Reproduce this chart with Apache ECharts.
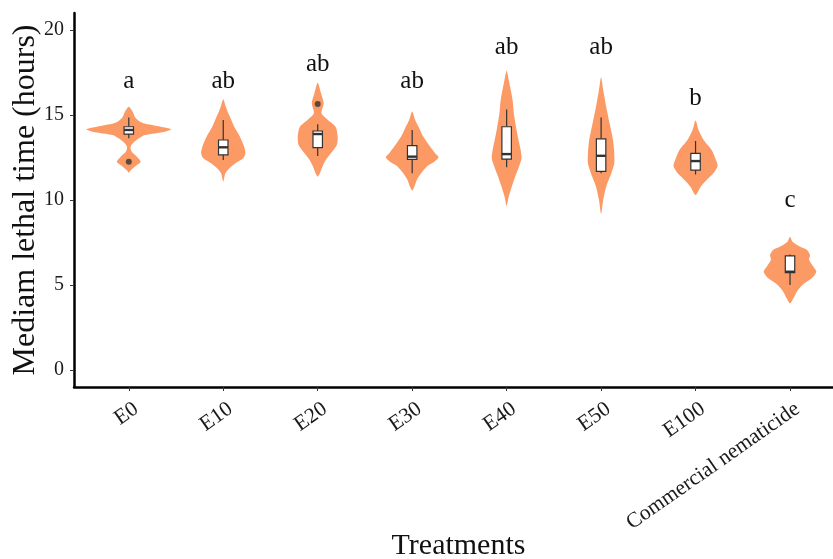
<!DOCTYPE html>
<html>
<head>
<meta charset="utf-8">
<script src="https://cdn.jsdelivr.net/npm/echarts@6/dist/echarts.min.js"></script>
<style>
  html, body { margin: 0; padding: 0; background: #ffffff; }
  #chart { width: 833px; height: 559px; }
</style>
</head>
<body>
<div id="chart"></div>
<script>
// Treatment groups along the x axis
const treatments = ['E0', 'E10', 'E20', 'E30', 'E40', 'E50', 'E100', 'Commercial nematicide'];

// Kernel density profiles: [median lethal time (h), relative density]
const densityE0 = [[15.49, 0], [15.20, 0.09], [14.90, 0.14], [14.71, 0.21], [14.51, 0.35], [14.31, 0.75], [14.16, 1.0], [14.02, 0.85], [13.82, 0.38], [13.63, 0.24], [13.33, 0.09], [13.10, 0.04], [12.84, 0.07], [12.55, 0.19], [12.25, 0.28], [12.00, 0.16], [11.76, 0.05], [11.61, 0]];
const densityE10 = [[15.92, 0], [15.49, 0.06], [15.10, 0.12], [14.71, 0.19], [14.31, 0.26], [13.73, 0.39], [13.14, 0.49], [12.75, 0.52], [12.45, 0.47], [12.16, 0.29], [11.86, 0.14], [11.57, 0.05], [11.08, 0]];
const densityE20 = [[16.90, 0], [16.27, 0.08], [15.69, 0.14], [15.10, 0.09], [14.71, 0.24], [14.31, 0.42], [13.73, 0.47], [13.24, 0.45], [12.75, 0.31], [12.35, 0.19], [11.96, 0.11], [11.57, 0.05], [11.37, 0]];
const densityE30 = [[15.20, 0], [14.71, 0.07], [14.31, 0.15], [13.73, 0.26], [13.14, 0.42], [12.75, 0.54], [12.51, 0.62], [12.26, 0.53], [11.96, 0.34], [11.57, 0.21], [11.18, 0.11], [10.78, 0.05], [10.55, 0]];
const densityE40 = [[17.61, 0], [17.06, 0.05], [15.88, 0.14], [15.10, 0.17], [14.31, 0.22], [13.53, 0.28], [12.94, 0.33], [12.45, 0.35], [11.96, 0.29], [11.37, 0.20], [10.78, 0.12], [10.20, 0.05], [9.65, 0]];
const densityE50 = [[17.22, 0], [16.47, 0.05], [15.49, 0.12], [14.51, 0.20], [13.53, 0.28], [12.75, 0.31], [12.16, 0.31], [11.57, 0.24], [10.78, 0.12], [10.00, 0.05], [9.18, 0]];
const densityE100 = [[14.67, 0], [14.12, 0.07], [13.53, 0.19], [12.94, 0.38], [12.35, 0.48], [12.00, 0.52], [11.57, 0.42], [11.18, 0.26], [10.78, 0.12], [10.29, 0]];
const densityCommercial = [[7.84, 0], [7.55, 0.06], [7.25, 0.24], [7.06, 0.40], [6.76, 0.47], [6.47, 0.45], [6.08, 0.55], [5.78, 0.62], [5.39, 0.51], [5.00, 0.29], [4.61, 0.16], [4.22, 0.08], [3.92, 0]];
const densities = [densityE0, densityE10, densityE20, densityE30, densityE40, densityE50, densityE100, densityCommercial];

// Box statistics: [lower whisker, Q1, median, Q3, upper whisker]
const boxStats = [
  [13.63, 13.88, 14.12, 14.31, 14.86],
  [12.35, 12.65, 13.10, 13.53, 14.70],
  [12.59, 13.08, 13.88, 14.06, 14.45],
  [11.57, 12.39, 12.55, 13.20, 14.12],
  [11.92, 12.41, 12.70, 14.31, 15.33],
  [11.57, 11.68, 12.60, 13.60, 14.86],
  [11.50, 11.76, 12.29, 12.74, 13.47],
  [5.00, 5.73, 5.78, 6.71, 6.80]
];

// Outlying observations: [treatment index, value]
const outliers = [[0, 12.25], [2, 15.65]];

// Significance letters and the height they sit at
const groupLetters = ['a', 'ab', 'ab', 'ab', 'ab', 'ab', 'b', 'c'];
const letterHeights = [17, 17, 18, 17, 19, 19, 16, 10];

const yTicks = [0, 5, 10, 15, 20];
const xTicks = treatments.map((_, i) => i);

const violinColor = '#FC9A66';
const ink = '#333333';
const serif = 'Liberation Serif';
const violinHalfWidth = 0.45;
const boxHalfWidth = 0.05;

function renderViolin(params, api) {
  const i = api.value(0);
  const prof = densities[i];
  const right = prof.map(([v, d]) => api.coord([i + d * violinHalfWidth, v]));
  const left = prof.slice(1, -1).reverse().map(([v, d]) => api.coord([i - d * violinHalfWidth, v]));
  return {
    type: 'polygon',
    shape: { points: right.concat(left), smooth: 0.25 },
    style: { fill: violinColor, stroke: null }
  };
}

function renderBox(params, api) {
  const i = api.value(0);
  const [lo, q1, med, q3, hi] = boxStats[i];
  const pLo = api.coord([i, lo]);
  const pHi = api.coord([i, hi]);
  const tl = api.coord([i - boxHalfWidth, q3]);
  const br = api.coord([i + boxHalfWidth, q1]);
  const mL = api.coord([i - boxHalfWidth, med]);
  const mR = api.coord([i + boxHalfWidth, med]);
  const lineStyle = { stroke: ink, lineWidth: 1.2 };
  return {
    type: 'group',
    children: [
      { type: 'line', shape: { x1: pLo[0], y1: pLo[1], x2: pLo[0], y2: br[1] }, style: lineStyle },
      { type: 'line', shape: { x1: pHi[0], y1: pHi[1], x2: pHi[0], y2: tl[1] }, style: lineStyle },
      { type: 'rect', shape: { x: tl[0], y: tl[1], width: br[0] - tl[0], height: br[1] - tl[1] },
        style: { fill: '#ffffff', stroke: ink, lineWidth: 1.2 } },
      { type: 'line', shape: { x1: mL[0], y1: mL[1], x2: mR[0], y2: mR[1] }, style: { stroke: ink, lineWidth: 2.4 } }
    ]
  };
}

function renderLetter(params, api) {
  const i = api.value(0);
  const p = api.coord([i, api.value(1)]);
  return {
    type: 'text',
    x: p[0], y: p[1],
    style: {
      text: groupLetters[i],
      fontFamily: serif, fontSize: 25, fill: '#111111',
      align: 'center', verticalAlign: 'middle'
    }
  };
}

const chart = echarts.init(document.getElementById('chart'), null, { renderer: 'canvas' });
chart.setOption({
  animation: false,
  backgroundColor: '#ffffff',
  grid: { left: 74, right: 0, top: 13, bottom: 172, outerBoundsMode: 'none' },
  xAxis: {
    type: 'value',
    min: -0.58,
    max: 7.455,
    name: 'Treatments',
    nameLocation: 'middle',
    nameGap: 144,
    nameMoveOverlap: false,
    nameTextStyle: { fontFamily: serif, fontSize: 30, color: '#111111', padding: [0, 0, 0, 10] },
    axisLine: { onZero: false, lineStyle: { color: '#000000', width: 2.5 } },
    axisTick: { customValues: xTicks, length: 4, lineStyle: { color: ink, width: 1 } },
    axisLabel: {
      customValues: xTicks.map(v => v + 0.012),
      formatter: v => treatments[Math.round(v)],
      rotate: 35,
      align: 'right',
      verticalAlign: 'top',
      margin: 11,
      fontFamily: serif, fontSize: 21.5, color: '#1a1a1a'
    },
    splitLine: { show: false }
  },
  yAxis: {
    type: 'value',
    min: -1,
    max: 21,
    name: 'Mediam lethal time (hours)',
    nameLocation: 'middle',
    nameRotate: 90,
    nameGap: 32,
    nameMoveOverlap: false,
    nameTextStyle: { fontFamily: serif, fontSize: 32, color: '#111111' },
    axisLine: { show: true, onZero: false, lineStyle: { color: '#000000', width: 2.5 } },
    axisTick: { show: true, customValues: yTicks, length: 4, lineStyle: { color: ink, width: 1 } },
    axisLabel: { customValues: yTicks, margin: 10, fontFamily: serif, fontSize: 20, color: '#1a1a1a' },
    splitLine: { show: false }
  },
  series: [
    {
      type: 'custom',
      renderItem: renderViolin,
      data: treatments.map((_, i) => [i, boxStats[i][2]]),
      encode: { x: 0, y: 1 },
      z: 1
    },
    {
      type: 'custom',
      renderItem: renderBox,
      data: treatments.map((_, i) => [i, boxStats[i][2]]),
      encode: { x: 0, y: 1 },
      z: 2
    },
    {
      type: 'scatter',
      data: outliers,
      symbol: 'circle',
      symbolSize: 6,
      itemStyle: { color: ink },
      z: 3
    },
    {
      type: 'custom',
      renderItem: renderLetter,
      data: treatments.map((_, i) => [i, letterHeights[i]]),
      encode: { x: 0, y: 1 },
      z: 4
    }
  ]
});
</script>
</body>
</html>
